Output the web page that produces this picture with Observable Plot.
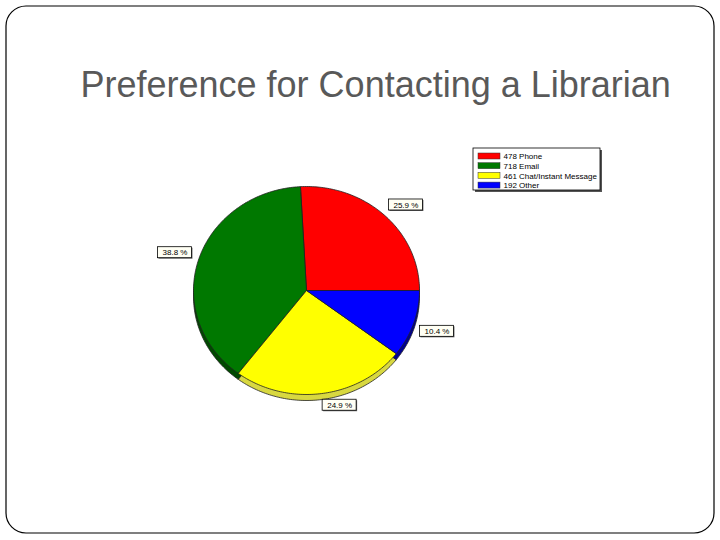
<!DOCTYPE html>
<html><head><meta charset="utf-8">
<script src="https://cdn.jsdelivr.net/npm/d3@7"></script>
<script src="https://cdn.jsdelivr.net/npm/@observablehq/plot@0.6"></script>
<style>html,body{margin:0;padding:0;background:#fff;} svg{display:block}</style>
</head><body><div id="chart"></div>
<script>
const title = "Preference for Contacting a Librarian";
const categories = ["Phone", "Email", "Chat/Instant Message", "Other"];
const counts = [478, 718, 461, 192];
const faceColors = ["#ff0000", "#007800", "#ffff00", "#0000ff"];
const sideColors = ["#a00000", "#004a00", "#d8d840", "#000090"];

const W = 720, H = 540;
const cx = 306, cy = 290, rx = 113, ry = 104, depth = 6;
const font = "Liberation Sans, Arial, sans-serif";
const total = d3.sum(counts);

const arcs = d3.pie().sort(null)
  .startAngle(Math.PI / 2).endAngle(Math.PI / 2 - 2 * Math.PI)(counts);

// pie wedge outlines (geometry derived from the values)
const wedgeRows = [];
arcs.forEach((a, i) => {
  const n = Math.max(2, Math.ceil(Math.abs(a.endAngle - a.startAngle) / (Math.PI / 180)));
  wedgeRows.push({category: categories[i], face: faceColors[i], side: sideColors[i], x: cx, y: cy});
  for (let t = 0; t <= n; t++) {
    const ang = a.startAngle + (a.endAngle - a.startAngle) * t / n;
    wedgeRows.push({category: categories[i], face: faceColors[i], side: sideColors[i],
      x: cx + rx * Math.sin(ang), y: cy - ry * Math.cos(ang)});
  }
  wedgeRows.push({category: categories[i], face: faceColors[i], side: sideColors[i], x: cx, y: cy});
});

// percentage labels
const bw = 34, bh = 11, k = 1.06;
const labels = arcs.map((a, i) => {
  const mid = (a.startAngle + a.endAngle) / 2;
  const s = Math.sin(mid), c = Math.cos(mid);
  const lx = cx + rx * k * s, ly = cy - ry * k * c;
  const x1 = s >= 0 ? lx : lx - bw;
  const y1 = c >= 0 ? ly - bh : ly;
  return {text: d3.format(".1f")(counts[i] / total * 100) + " %",
    x1, x2: x1 + bw, y1, y2: y1 + bh, xm: x1 + bw / 2, ym: y1 + bh / 2};
});

// legend
const lg = {x: 473, y: 148, w: 127, h: 42, pitch: 9.7};
const legendItems = categories.map((cat, i) => ({
  text: counts[i] + " " + cat, color: faceColors[i],
  sx1: lg.x + 5, sx2: lg.x + 27,
  sy1: lg.y + 5 + i * lg.pitch, sy2: lg.y + 11 + i * lg.pitch,
  tx: lg.x + 30, ty: lg.y + 8.2 + i * lg.pitch
}));
const legendBox = [{x1: lg.x, x2: lg.x + lg.w, y1: lg.y, y2: lg.y + lg.h}];

const chart = Plot.plot({
  width: W, height: H,
  margin: 0,
  x: {domain: [0, W], range: [0, W], axis: null},
  y: {domain: [0, H], range: [0, H], axis: null},
  color: {type: "identity"},
  marks: [
    Plot.frame({insetLeft: 5.5, insetTop: 5.5, insetRight: 6.5, insetBottom: 7.5, rx: 20, stroke: "#000", strokeWidth: 1.2}),
    Plot.text([title], {frameAnchor: "top-left", dx: 80, dy: 96, lineAnchor: "bottom", textAnchor: "start",
      fontSize: 36, fill: "#595959", fontFamily: font}),
    // 3D side
    Plot.line(wedgeRows, {x: "x", y: "y", z: "category", fill: "side", stroke: "#222", strokeWidth: 0.8, dy: depth, curve: "linear"}),
    // top faces
    Plot.line(wedgeRows, {x: "x", y: "y", z: "category", fill: "face", stroke: "#222", strokeWidth: 0.8, curve: "linear"}),
    // labels
    Plot.rect(labels, {x1: "x1", x2: "x2", y1: "y1", y2: "y2", fill: "#666", dx: 1, dy: 1}),
    Plot.rect(labels, {x1: "x1", x2: "x2", y1: "y1", y2: "y2", fill: "#fffff4", stroke: "#000", strokeWidth: 0.8}),
    Plot.text(labels, {x: "xm", y: "ym", text: "text", fontSize: 8, fill: "#000", fontFamily: font}),
    // legend
    Plot.rect(legendBox, {x1: "x1", x2: "x2", y1: "y1", y2: "y2", fill: "#555", dx: 2, dy: 2}),
    Plot.rect(legendBox, {x1: "x1", x2: "x2", y1: "y1", y2: "y2", fill: "#fff", stroke: "#000", strokeWidth: 0.8}),
    Plot.rect(legendItems, {x1: "sx1", x2: "sx2", y1: "sy1", y2: "sy2", fill: "color", stroke: "#333", strokeWidth: 0.5}),
    Plot.text(legendItems, {x: "tx", y: "ty", text: "text", textAnchor: "start", fontSize: 8, fill: "#000", fontFamily: font})
  ]
});
document.getElementById("chart").append(chart);
</script>
</body></html>
